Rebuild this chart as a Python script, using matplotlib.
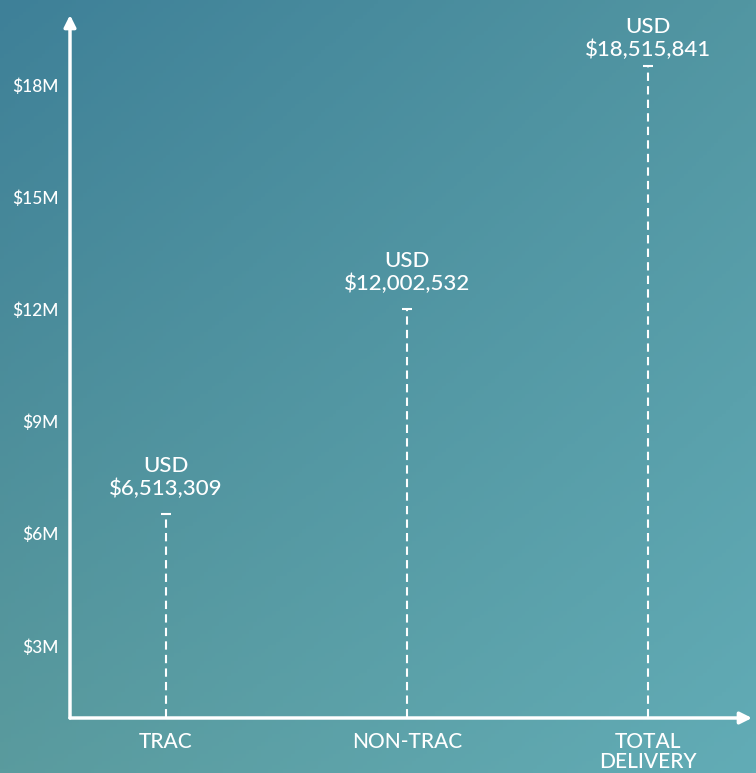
import numpy as np
import matplotlib.pyplot as plt

# データ
categories = ['TRAC', 'NON-TRAC', 'TOTAL\nDELIVERY']
values = [6513309, 12002532, 18515841]
value_labels = ['USD\n$6,513,309', 'USD\n$12,002,532', 'USD\n$18,515,841']
y_ticks = [3e6, 6e6, 9e6, 12e6, 15e6, 18e6]
y_tick_labels = ['$3M', '$6M', '$9M', '$12M', '$15M', '$18M']

plt.rcParams['font.family'] = ['Lato', 'DejaVu Sans']

fig = plt.figure(figsize=(7.56, 7.73), dpi=100)

# 背景のグラデーション
bg = fig.add_axes([0, 0, 1, 1])
tl = np.array([62, 128, 152]) / 255
tr = np.array([82, 150, 162]) / 255
bl = np.array([90, 155, 158]) / 255
br = np.array([98, 172, 182]) / 255
u = np.linspace(0, 1, 200)[None, :, None]
v = np.linspace(0, 1, 200)[:, None, None]
grad = (1 - v) * ((1 - u) * tl + u * tr) + v * ((1 - u) * bl + u * br)
bg.imshow(grad, aspect='auto', extent=[0, 1, 0, 1], origin='upper')
bg.axis('off')

ax = fig.add_axes([70 / 756, 55 / 773, 682 / 756, 703 / 773])
ax.patch.set_alpha(0)

# ラベルのオフセット（上端に近いものは詰める）
label_offsets = [11, 11, 4]

x = np.arange(len(categories))
for xi, val, lab, off in zip(x, values, value_labels, label_offsets):
    ax.plot([xi, xi], [0, val], color='white', lw=1.5, ls=(0, (4, 2.5)))
    ax.plot([xi], [val], marker='_', ms=7, mew=1.5, color='white')
    ax.annotate(lab, (xi, val), xytext=(0, off), textcoords='offset points',
                ha='center', va='bottom', color='white', fontsize=16,
                linespacing=1.15, fontweight='medium')

ax.set_xlim(-0.398, 2.43)
ax.set_ylim(1.07e6, 19.87e6)

for s in ax.spines.values():
    s.set_visible(False)

# 軸の矢印
ax.annotate('', xy=(0, 1), xytext=(0, 0), xycoords='axes fraction',
            arrowprops=dict(arrowstyle='-|>,head_length=0.7,head_width=0.35',
                            color='white', lw=2.5, shrinkA=0, shrinkB=0))
ax.annotate('', xy=(1, 0), xytext=(0, 0), xycoords='axes fraction',
            arrowprops=dict(arrowstyle='-|>,head_length=0.7,head_width=0.35',
                            color='white', lw=2.5, shrinkA=0, shrinkB=0))

ax.set_yticks(y_ticks)
ax.set_yticklabels(y_tick_labels, fontweight='medium')
ax.set_xticks(x)
ax.set_xticklabels(categories, linespacing=1.02, fontweight='medium')
ax.tick_params(axis='y', length=0, pad=8.5, colors='white', labelsize=12.5)
ax.tick_params(axis='x', length=0, pad=10, colors='white', labelsize=15)

fig.savefig('out.png', dpi=100)
